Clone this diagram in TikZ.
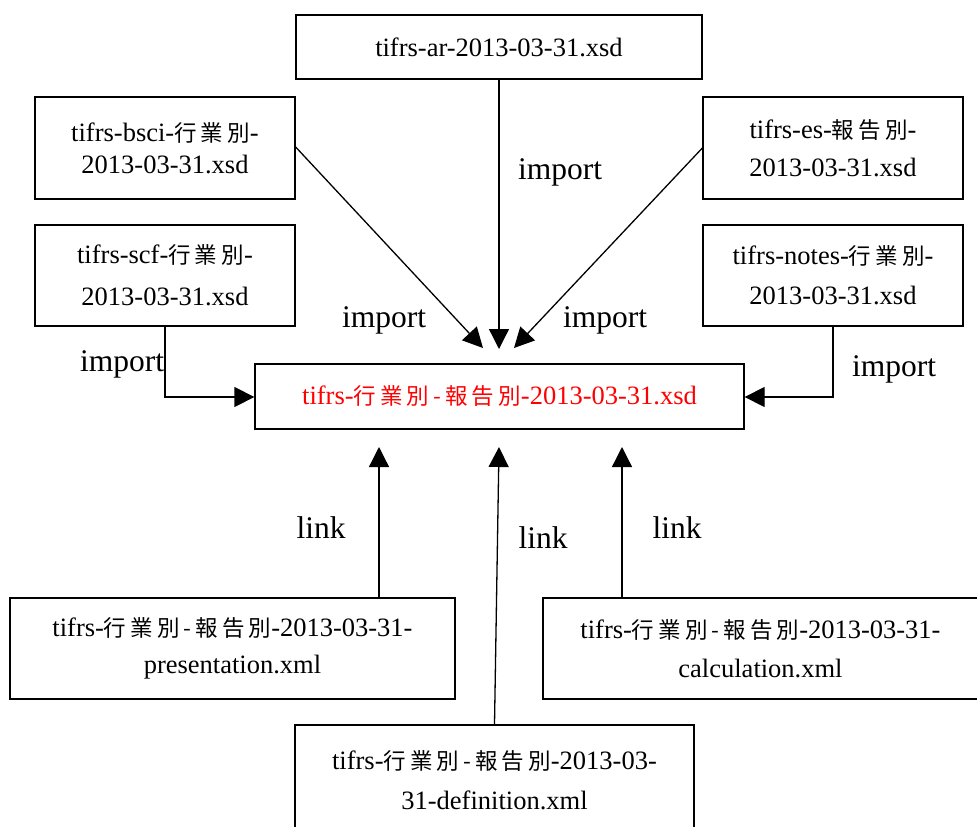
\documentclass[tikz,border=0pt]{standalone}
\usepackage{fontspec}
\setmainfont{Liberation Serif}
\newfontfamily\cjk[Scale=0.85,LetterSpace=18]{Noto Sans CJK TC}
\usetikzlibrary{arrows.meta}
\newcommand{\hz}[1]{{\cjk #1}}
\begin{document}
\begin{tikzpicture}[x=1pt,y=-1pt,
  box/.style={draw, line width=1.3pt, rectangle, inner sep=0pt, align=center,
    font=\fontsize{26.5}{38}\selectfont},
  conn/.style={line width=1.3pt, -{Triangle[width=20pt,length=20pt]}},
  lbl/.style={font=\fontsize{31.5}{36}\selectfont, inner sep=0pt}]
\useasboundingbox (0,0) rectangle (977,827);

% source schemas
\node[box, minimum width=406, minimum height=64] (ar) at (499,47)
  {\raisebox{-3pt}{tifrs-ar-2013-03-31.xsd}};
\node[box, minimum width=260, minimum height=102, font=\fontsize{26.5}{32}\selectfont] (bsci) at (165,148)
  {tifrs-bsci-\hz{行業別}-\\2013-03-31.xsd};
\node[box, minimum width=260, minimum height=102, font=\fontsize{26.5}{38}\selectfont] (es) at (833,148)
  {\raisebox{-4pt}{tifrs-es-\hz{報告別}-}\\\raisebox{-4pt}{2013-03-31.xsd}};
\node[box, minimum width=260, minimum height=101, font=\fontsize{26.5}{42}\selectfont] (scf) at (165,275.5)
  {tifrs-scf-\hz{行業別}-\\2013-03-31.xsd};
\node[box, minimum width=260, minimum height=101, font=\fontsize{26.5}{40}\selectfont] (notes) at (833,275.5)
  {tifrs-notes-\hz{行業別}-\\2013-03-31.xsd};

% central schema
\node[box, minimum width=489, minimum height=65, text=red] (c) at (499.5,396.5)
  {\raisebox{-3pt}{tifrs-\hz{行業別-報告別}-2013-03-31.xsd}};

% linkbases
\node[box, minimum width=445, minimum height=101, font=\fontsize{26.5}{37}\selectfont] (pre) at (232.5,648.5)
  {\raisebox{-3pt}{tifrs-\hz{行業別-報告別}-2013-03-31-}\\\raisebox{-3pt}{presentation.xml}};
\node[box, minimum width=435, minimum height=101, font=\fontsize{26.5}{39}\selectfont] (cal) at (760.5,648.5)
  {\raisebox{-2pt}{tifrs-\hz{行業別-報告別}-2013-03-31-}\\\raisebox{-2pt}{calculation.xml}};
\node[box, minimum width=399, minimum height=110, font=\fontsize{26.5}{40}\selectfont] (def) at (494.5,780)
  {tifrs-\hz{行業別-報告別}-2013-03-\\31-definition.xml};

% arrow tips short of the central box
\coordinate (tl) at (483,348);
\coordinate (tm) at (499,349);
\coordinate (tr) at (514,348);
\coordinate (bl) at (379,447);
\coordinate (bm) at (499,447);
\coordinate (br) at (622,447);

\draw[conn] (ar.south) -- (tm);
\draw[conn] (bsci.east) ++(0,-1) -- (tl);
\draw[conn] (es.west) -- (tr);
\draw[conn] (scf.south) |- (c.west |- 0,397);
\draw[conn] (notes.south) |- (c.east |- 0,397);
\draw[conn] (pre.north -| bl) -- (bl);
\draw[conn] (def.north) -- (bm);
\draw[conn] (cal.north -| br) -- (br);

% labels
\node[lbl] (i1) at (560,172) {import};
\node[lbl] (i2) at (384,320) {import};
\node[lbl] (i3) at (605,320) {import};
\node[lbl] (i4) at (122,364) {import};
\node[lbl] (i5) at (894,369) {import};
\node[lbl] (l1) at (321,528) {link};
\node[lbl] (l2) at (543,538) {link};
\node[lbl] (l3) at (677,528) {link};
\end{tikzpicture}
\end{document}
